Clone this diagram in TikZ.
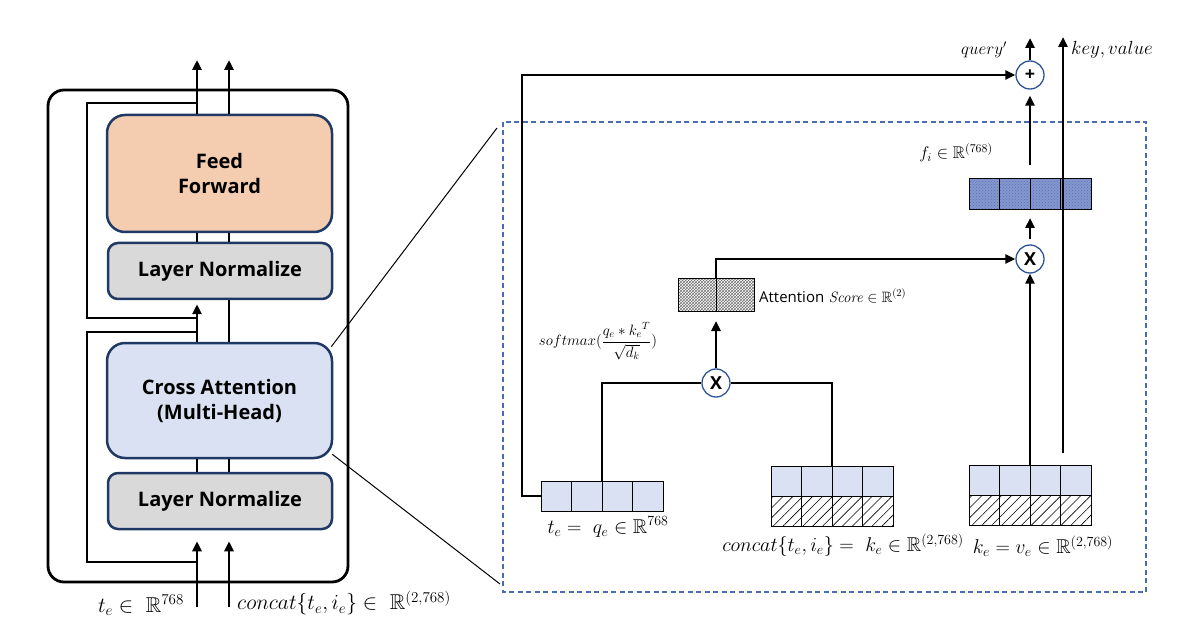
\RequirePackage{fix-cm}
\documentclass[tikz,border=0pt]{standalone}
\usepackage{amsmath}
\usepackage{amssymb}
\usepackage{fontspec}
\setsansfont{Open Sans}
\usetikzlibrary{arrows.meta,patterns,patterns.meta,positioning}

\definecolor{boxline}{HTML}{203864}
\definecolor{ffpeach}{HTML}{F4CDB1}
\definecolor{lngray}{HTML}{D9D9D9}
\definecolor{calight}{HTML}{DAE1F2}
\definecolor{opblue}{HTML}{2F5597}
\definecolor{zoomdash}{HTML}{4A6CB0}
\definecolor{fiblue}{HTML}{8497CF}
\definecolor{fidot}{HTML}{5A70B0}

\tikzset{
  block/.style={draw=boxline, line width=2.5pt, align=center, inner sep=0pt,
    font=\fontsize{20}{25}\selectfont\sffamily\bfseries},
  flow/.style={line width=2.6pt},
  arr/.style={flow, -{Triangle[length=10pt,width=9pt]}},
  op/.style={circle, draw=opblue, line width=1.3pt, fill=white, minimum size=28pt,
    inner sep=0pt, font=\fontsize{18}{18}\selectfont\sffamily\bfseries},
  cell/.style={draw, line width=1pt, minimum width=30.5pt, minimum height=30pt,
    inner sep=0pt, outer sep=0pt},
  qcell/.style={cell, fill=calight},
  hcell/.style={cell, pattern={Lines[angle=45,distance=7pt,line width=0.6pt]}},
  ficell/.style={cell, minimum height=31pt, preaction={fill=fiblue},
    pattern=crosshatch dots, pattern color=fidot},
  attcell/.style={cell, minimum width=38pt, minimum height=33pt,
    pattern=crosshatch, pattern color=black!55},
  biglabel/.style={inner sep=0pt, font=\fontsize{21.5}{26}\selectfont},
  midlabel/.style={inner sep=0pt, font=\fontsize{20}{24}\selectfont},
}

\begin{document}
\begin{tikzpicture}[x=1pt, y=-1pt]

  \useasboundingbox (0,0) rectangle (1194,636);

  % left: one layer of the encoder
  \node[draw, line width=2.8pt, rounded corners=16pt, minimum width=300pt,
    minimum height=492pt] (layer) at (198,336) {};
  \node[block, fill=ffpeach, rounded corners=18pt, minimum width=225pt,
    minimum height=117pt] (ff) at (219.5,173.5) {Feed\\Forward};
  \node[block, fill=lngray, rounded corners=10pt, minimum width=224pt,
    minimum height=56pt] (ln2) at (220,271) {Layer Normalize};
  \node[block, fill=calight, rounded corners=18pt, minimum width=225pt,
    minimum height=115pt] (ca) at (219.5,400.5) {Cross Attention\\(Multi-Head)};
  \node[block, fill=lngray, rounded corners=10pt, minimum width=224pt,
    minimum height=56pt] (ln1) at (220,501) {Layer Normalize};

  \coordinate (inq) at (197,607);
  \coordinate (inkv) at (229,607);
  \coordinate (outq) at (197,60);
  \coordinate (outkv) at (229,60);

  \draw[arr] (inq) -- ([yshift=-11pt]inq |- ln1.south);
  \draw[arr] (inkv) -- ([yshift=-11pt]inkv |- ln1.south);
  \draw[flow] (ln1.north -| inq) -- (ca.south -| inq);
  \draw[flow] (ln1.north -| inkv) -- (ca.south -| inkv);
  \draw[arr] (ca.north -| inq) -- ([yshift=-4pt]ln2.south -| inq);
  \draw[flow] (ca.north -| inkv) -- (ln2.south -| inkv);
  \draw[flow] (ln2.north -| inq) -- (ff.south -| inq);
  \draw[flow] (ln2.north -| inkv) -- (ff.south -| inkv);
  \draw[arr] (ff.north -| inq) -- (outq);
  \draw[arr] (ff.north -| inkv) -- (outkv);

  % residual connections
  \coordinate (res1) at (197,562);
  \coordinate (res1c) at (87,332);
  \coordinate (res2) at (197,318);
  \coordinate (res2c) at (87,103);
  \draw[flow] (res1) -| (res1c) -- (inq |- res1c);
  \draw[flow] (res2) -| (res2c) -- (inq |- res2c);

  \node[biglabel] (lte) at (141,605) {$t_e \in\ \mathbb{R}^{768}$};
  \node[biglabel, anchor=west] (lcat) at (237,603)
    {$concat\{t_e, i_e\} \in\ \mathbb{R}^{(2,768)}$};

  % zoom lines
  \coordinate (zt) at (497,128);
  \coordinate (zb) at (500,584);
  \draw[line width=1pt] ([shift={(-2pt,-5pt)}]ca.north east) -- (zt);
  \draw[line width=1pt] ([shift={(-1pt,5pt)}]ca.south east) -- (zb);

  % right: inside cross attention
  \draw[zoomdash, line width=1.2pt, dash pattern=on 5pt off 3.5pt]
    (503,122) rectangle (1146,592);

  \foreach \i in {1,...,4}{
    \node[qcell] (te\i) at ({541+30.5*(\i-0.5)},496) {};
    \node[qcell] (kc\i) at ({771+30.5*(\i-0.5)},481) {};
    \node[hcell] (kh\i) at ({771+30.5*(\i-0.5)},511) {};
    \node[qcell] (kv\i) at ({969+30.5*(\i-0.5)},480) {};
    \node[hcell] (kw\i) at ({969+30.5*(\i-0.5)},510) {};
    \node[ficell] (fi\i) at ({969+30.5*(\i-0.5)},194.5) {};
  }
  \foreach \i in {1,2}{
    \node[attcell] (at\i) at ({678+38*(\i-0.5)},295.5) {};
  }

  \node[op] (xbot) at (716,383) {X};
  \node[op] (xtop) at (1030,259) {X};
  \node[op] (plus) at (1030,75) {+};

  \coordinate (qloop) at (522,75);
  \coordinate (qout) at (1030,38);
  \coordinate (kvbot) at (1063,453);
  \coordinate (kvtop) at (1063,37);

  \draw[arr, line width=2.2pt] (te1.west) -| (qloop) -- (plus.west);
  \draw[flow] (te2.north east) |- (xbot.west);
  \draw[flow] (kc2.north east) |- (xbot.east);
  \draw[arr, shorten >=9pt] (xbot.north) -- (at1.south east);
  \draw[arr] (at1.north east) |- (xtop.west);
  \draw[arr] (kv2.north east) -- (xtop.south);
  \draw[arr, shorten <=5pt, shorten >=8pt] (xtop.north) -- (fi2.south east);
  \draw[arr, shorten <=14pt, shorten >=6pt] (fi2.north east) -- (plus.south);
  \draw[arr] (plus.north) -- (qout);
  \draw[arr] (kvbot) -- (kvtop);

  \node[inner sep=0pt, anchor=east, font=\fontsize{17}{20}\selectfont] (lquery)
    at (1007,50) {$query'$};
  \node[inner sep=0pt, anchor=west, font=\fontsize{19}{22}\selectfont] (lkv)
    at (1071,50) {$key, value$};
  \node[inner sep=0pt, font=\fontsize{17}{20}\selectfont] (lfi) at (956,153)
    {$f_i \in \mathbb{R}^{(768)}$};
  \node[inner sep=0pt, anchor=west, font=\fontsize{15}{17}\selectfont] (latt)
    at (759,296) {\textsf{Attention} \textit{Score} $\in \mathbb{R}^{(2)}$};
  \node[inner sep=0pt, font=\fontsize{15}{17}\selectfont] (lsoft) at (598,341)
    {$softmax(\dfrac{q_e * {k_e}^{T}}{\sqrt{d_k}})$};
  \node[midlabel] (lq) at (608,527) {$t_e =\ q_e \in \mathbb{R}^{768}$};
  \node[midlabel] (lk) at (843,545)
    {$concat\{t_e, i_e\} =\ k_e \in \mathbb{R}^{(2,768)}$};
  \node[midlabel] (lv) at (1043,546) {$k_e = v_e \in \mathbb{R}^{(2,768)}$};

\end{tikzpicture}
\end{document}
